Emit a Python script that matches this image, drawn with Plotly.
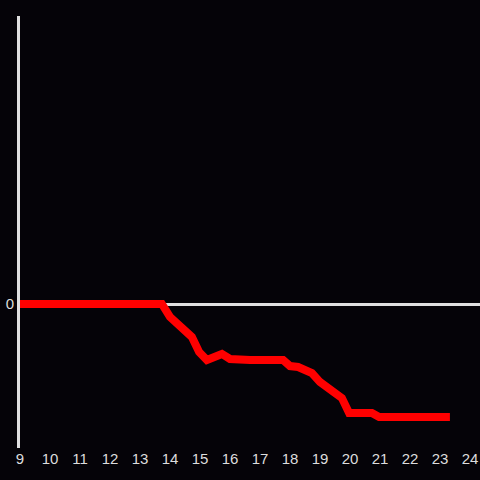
import plotly.graph_objects as go

hours = [9.0, 13.73, 14.0, 14.73, 14.97, 15.23, 15.73, 16.0, 16.67, 17.77, 18.0,
         18.27, 18.73, 19.0, 19.73, 19.97, 20.73, 20.97, 23.33]
values = [0.0, 0.0, -0.09, -0.229, -0.333, -0.389, -0.347, -0.382, -0.389, -0.389, -0.431,
          -0.4375, -0.479, -0.542, -0.653, -0.757, -0.757, -0.785, -0.785]
x_ticks = list(range(9, 25))
y_ticks = [0]

fig = go.Figure(go.Scatter(x=hours, y=values, mode="lines",
                           line=dict(color="#ff0000", width=8),
                           hoverinfo="skip"))

fig.update_layout(
    width=480, height=480,
    margin=dict(l=20, r=0, t=16, b=32),
    paper_bgcolor="#050308", plot_bgcolor="#050308",
    showlegend=False,
    font=dict(family="Liberation Sans, Arial, sans-serif", size=15, color="#dddddd"),
)
fig.update_xaxes(range=[9, 24.333], tickvals=x_ticks, ticktext=[str(t) for t in x_ticks],
                 showgrid=False, zeroline=False, showline=False, ticks="", ticklen=0)
fig.update_yaxes(range=[-1, 2], tickvals=y_ticks, ticktext=["0"],
                 showgrid=False, zeroline=True, zerolinecolor="#e0e0e0", zerolinewidth=3,
                 showline=True, linecolor="#e0e0e0", linewidth=3, ticks="", ticklen=0)

fig.write_html("out.html", config={"displayModeBar": False},
               post_script="document.body.style.margin='0';document.body.style.overflow='hidden';document.body.style.background='#050308';")
